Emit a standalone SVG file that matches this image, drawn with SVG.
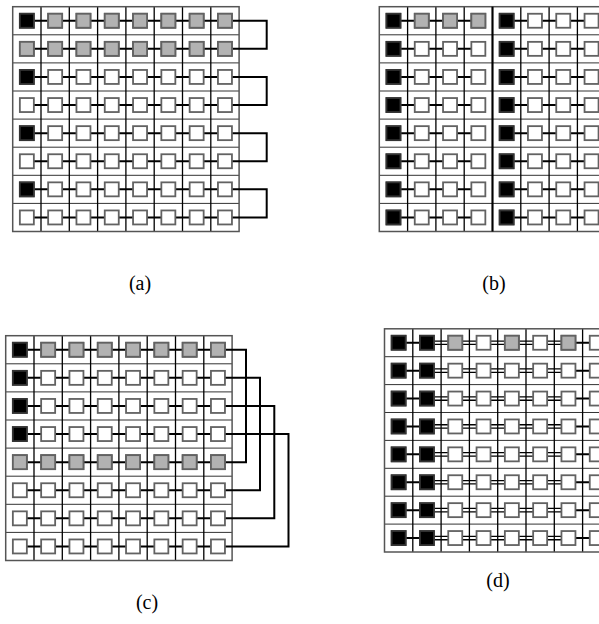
<svg xmlns="http://www.w3.org/2000/svg" xmlns:xlink="http://www.w3.org/1999/xlink" width="599" height="624" viewBox="0 0 599 624">
<style>
.h{stroke:#333;stroke-width:1;fill:none}
.v{stroke:#000;stroke-width:1.3;fill:none}
.o{stroke:#555;stroke-width:1.5;fill:none}
.c{stroke:#000;stroke-width:2;fill:none}
.c2{stroke:#000;stroke-width:1.3;fill:none}
.w,.g,.k{stroke:#626262;stroke-width:1.8}
.w{fill:#fff}
.g{fill:#b2b2b2}
.k{fill:#000;stroke:#333}
.lbl{font-family:"Liberation Serif","Times New Roman",serif;font-size:20px;fill:#000;text-anchor:middle}
</style>
<defs>
<g id="grid">
<path class="h" d="M0,28.1H226.4M0,56.2H226.4M0,84.3H226.4M0,112.4H226.4M0,140.5H226.4M0,168.6H226.4M0,196.7H226.4"/>
<path class="v" d="M28.3,0V224.8M56.6,0V224.8M84.9,0V224.8M113.2,0V224.8M141.5,0V224.8M169.8,0V224.8M198.1,0V224.8"/>
<rect class="o" x="0" y="0" width="226.4" height="224.8"/>
</g>
<g id="gridD">
<path class="h" d="M0,27.9H226.4M0,55.8H226.4M0,83.7H226.4M0,111.6H226.4M0,139.5H226.4M0,167.4H226.4M0,195.3H226.4"/>
<path class="v" d="M28.3,0V223.2M56.6,0V223.2M84.9,0V223.2M113.2,0V223.2M141.5,0V223.2M169.8,0V223.2M198.1,0V223.2"/>
<rect class="o" x="0" y="0" width="226.4" height="223.2"/>
</g>
<g id="sq8">
<rect class="w" x="7.15" y="-7" width="14" height="14"/>
<rect class="w" x="35.45" y="-7" width="14" height="14"/>
<rect class="w" x="63.75" y="-7" width="14" height="14"/>
<rect class="w" x="92.05" y="-7" width="14" height="14"/>
<rect class="w" x="120.35" y="-7" width="14" height="14"/>
<rect class="w" x="148.65" y="-7" width="14" height="14"/>
<rect class="w" x="176.95" y="-7" width="14" height="14"/>
<rect class="w" x="205.25" y="-7" width="14" height="14"/>
</g>
<g id="rowA"><path class="c" d="M14.15,0H212.25"/><use xlink:href="#sq8" href="#sq8"/></g>
<g id="rowB"><path class="c" d="M14.15,0H99.05M127.35,0H212.25"/><use xlink:href="#sq8" href="#sq8"/></g>
<g id="rowD"><path class="c" d="M14.15,0H42.45M183.95,0H212.25"/><path class="c2" d="M42.45,-1.7H183.95M42.45,1.7H183.95"/><use xlink:href="#sq8" href="#sq8"/></g>
</defs>

<g id="panel-a" transform="translate(12.7,6.7)">
<use href="#grid" xlink:href="#grid"/>
<g id="connectors-a"><path class="c" d="M219.25,14.05H254V42.15H219.25M219.25,70.25H254V98.35H219.25M219.25,126.45H254V154.55H219.25M219.25,182.65H254V210.75H219.25"/></g>
<g id="rows-a">
<use href="#rowA" xlink:href="#rowA" y="14.05"/>
<use href="#rowA" xlink:href="#rowA" y="42.15"/>
<use href="#rowA" xlink:href="#rowA" y="70.25"/>
<use href="#rowA" xlink:href="#rowA" y="98.35"/>
<use href="#rowA" xlink:href="#rowA" y="126.45"/>
<use href="#rowA" xlink:href="#rowA" y="154.55"/>
<use href="#rowA" xlink:href="#rowA" y="182.65"/>
<use href="#rowA" xlink:href="#rowA" y="210.75"/>
</g>
<g id="marks-a">
<rect class="k" x="7.15" y="7.05" width="14" height="14"/>
<rect class="g" x="35.45" y="7.05" width="14" height="14"/>
<rect class="g" x="63.75" y="7.05" width="14" height="14"/>
<rect class="g" x="92.05" y="7.05" width="14" height="14"/>
<rect class="g" x="120.35" y="7.05" width="14" height="14"/>
<rect class="g" x="148.65" y="7.05" width="14" height="14"/>
<rect class="g" x="176.95" y="7.05" width="14" height="14"/>
<rect class="g" x="205.25" y="7.05" width="14" height="14"/>
<rect class="g" x="7.15" y="35.15" width="14" height="14"/>
<rect class="g" x="35.45" y="35.15" width="14" height="14"/>
<rect class="g" x="63.75" y="35.15" width="14" height="14"/>
<rect class="g" x="92.05" y="35.15" width="14" height="14"/>
<rect class="g" x="120.35" y="35.15" width="14" height="14"/>
<rect class="g" x="148.65" y="35.15" width="14" height="14"/>
<rect class="g" x="176.95" y="35.15" width="14" height="14"/>
<rect class="g" x="205.25" y="35.15" width="14" height="14"/>
<rect class="k" x="7.15" y="63.25" width="14" height="14"/>
<rect class="k" x="7.15" y="119.45" width="14" height="14"/>
<rect class="k" x="7.15" y="175.65" width="14" height="14"/>
</g>
</g>

<g id="panel-b" transform="translate(379.3,6.7)">
<use href="#grid" xlink:href="#grid"/>
<path d="M113.2,0V224.8" stroke="#000" stroke-width="2" fill="none"/>
<g id="rows-b">
<use href="#rowB" xlink:href="#rowB" y="14.05"/>
<use href="#rowB" xlink:href="#rowB" y="42.15"/>
<use href="#rowB" xlink:href="#rowB" y="70.25"/>
<use href="#rowB" xlink:href="#rowB" y="98.35"/>
<use href="#rowB" xlink:href="#rowB" y="126.45"/>
<use href="#rowB" xlink:href="#rowB" y="154.55"/>
<use href="#rowB" xlink:href="#rowB" y="182.65"/>
<use href="#rowB" xlink:href="#rowB" y="210.75"/>
</g>
<g id="marks-b">
<rect class="g" x="35.45" y="7.05" width="14" height="14"/>
<rect class="g" x="63.75" y="7.05" width="14" height="14"/>
<rect class="g" x="92.05" y="7.05" width="14" height="14"/>
<rect class="k" x="7.15" y="7.05" width="14" height="14"/>
<rect class="k" x="7.15" y="35.15" width="14" height="14"/>
<rect class="k" x="7.15" y="63.25" width="14" height="14"/>
<rect class="k" x="7.15" y="91.35" width="14" height="14"/>
<rect class="k" x="7.15" y="119.45" width="14" height="14"/>
<rect class="k" x="7.15" y="147.55" width="14" height="14"/>
<rect class="k" x="7.15" y="175.65" width="14" height="14"/>
<rect class="k" x="7.15" y="203.75" width="14" height="14"/>
<rect class="k" x="120.35" y="7.05" width="14" height="14"/>
<rect class="k" x="120.35" y="35.15" width="14" height="14"/>
<rect class="k" x="120.35" y="63.25" width="14" height="14"/>
<rect class="k" x="120.35" y="91.35" width="14" height="14"/>
<rect class="k" x="120.35" y="119.45" width="14" height="14"/>
<rect class="k" x="120.35" y="147.55" width="14" height="14"/>
<rect class="k" x="120.35" y="175.65" width="14" height="14"/>
<rect class="k" x="120.35" y="203.75" width="14" height="14"/>
</g>
</g>

<g id="panel-c" transform="translate(5.7,335.7)">
<use href="#grid" xlink:href="#grid"/>
<g id="connectors-c"><path class="c" d="M219.25,14.05H240.3V126.45H219.25M219.25,42.15H254.3V154.55H219.25M219.25,70.25H268.6V182.65H219.25M219.25,98.35H282.8V210.75H219.25"/></g>
<g id="rows-c">
<use href="#rowA" xlink:href="#rowA" y="14.05"/>
<use href="#rowA" xlink:href="#rowA" y="42.15"/>
<use href="#rowA" xlink:href="#rowA" y="70.25"/>
<use href="#rowA" xlink:href="#rowA" y="98.35"/>
<use href="#rowA" xlink:href="#rowA" y="126.45"/>
<use href="#rowA" xlink:href="#rowA" y="154.55"/>
<use href="#rowA" xlink:href="#rowA" y="182.65"/>
<use href="#rowA" xlink:href="#rowA" y="210.75"/>
</g>
<g id="marks-c">
<rect class="k" x="7.15" y="7.05" width="14" height="14"/>
<rect class="g" x="35.45" y="7.05" width="14" height="14"/>
<rect class="g" x="63.75" y="7.05" width="14" height="14"/>
<rect class="g" x="92.05" y="7.05" width="14" height="14"/>
<rect class="g" x="120.35" y="7.05" width="14" height="14"/>
<rect class="g" x="148.65" y="7.05" width="14" height="14"/>
<rect class="g" x="176.95" y="7.05" width="14" height="14"/>
<rect class="g" x="205.25" y="7.05" width="14" height="14"/>
<rect class="k" x="7.15" y="35.15" width="14" height="14"/>
<rect class="k" x="7.15" y="63.25" width="14" height="14"/>
<rect class="k" x="7.15" y="91.35" width="14" height="14"/>
<rect class="g" x="7.15" y="119.45" width="14" height="14"/>
<rect class="g" x="35.45" y="119.45" width="14" height="14"/>
<rect class="g" x="63.75" y="119.45" width="14" height="14"/>
<rect class="g" x="92.05" y="119.45" width="14" height="14"/>
<rect class="g" x="120.35" y="119.45" width="14" height="14"/>
<rect class="g" x="148.65" y="119.45" width="14" height="14"/>
<rect class="g" x="176.95" y="119.45" width="14" height="14"/>
<rect class="g" x="205.25" y="119.45" width="14" height="14"/>
</g>
</g>

<g id="panel-d" transform="translate(384.5,328.8)">
<use href="#gridD" xlink:href="#gridD"/>
<g id="rows-d">
<use href="#rowD" xlink:href="#rowD" y="13.95"/>
<use href="#rowD" xlink:href="#rowD" y="41.85"/>
<use href="#rowD" xlink:href="#rowD" y="69.75"/>
<use href="#rowD" xlink:href="#rowD" y="97.65"/>
<use href="#rowD" xlink:href="#rowD" y="125.55"/>
<use href="#rowD" xlink:href="#rowD" y="153.45"/>
<use href="#rowD" xlink:href="#rowD" y="181.35"/>
<use href="#rowD" xlink:href="#rowD" y="209.25"/>
</g>
<g id="marks-d">
<rect class="g" x="63.75" y="6.95" width="14" height="14"/>
<rect class="g" x="120.35" y="6.95" width="14" height="14"/>
<rect class="g" x="176.95" y="6.95" width="14" height="14"/>
<rect class="k" x="7.15" y="6.95" width="14" height="14"/><rect class="k" x="35.45" y="6.95" width="14" height="14"/>
<rect class="k" x="7.15" y="34.85" width="14" height="14"/><rect class="k" x="35.45" y="34.85" width="14" height="14"/>
<rect class="k" x="7.15" y="62.75" width="14" height="14"/><rect class="k" x="35.45" y="62.75" width="14" height="14"/>
<rect class="k" x="7.15" y="90.65" width="14" height="14"/><rect class="k" x="35.45" y="90.65" width="14" height="14"/>
<rect class="k" x="7.15" y="118.55" width="14" height="14"/><rect class="k" x="35.45" y="118.55" width="14" height="14"/>
<rect class="k" x="7.15" y="146.45" width="14" height="14"/><rect class="k" x="35.45" y="146.45" width="14" height="14"/>
<rect class="k" x="7.15" y="174.35" width="14" height="14"/><rect class="k" x="35.45" y="174.35" width="14" height="14"/>
<rect class="k" x="7.15" y="202.25" width="14" height="14"/><rect class="k" x="35.45" y="202.25" width="14" height="14"/>
</g>
</g>

<g id="labels">
<text class="lbl" x="140" y="290">(a)</text>
<text class="lbl" x="494" y="290">(b)</text>
<text class="lbl" x="147" y="609">(c)</text>
<text class="lbl" x="498" y="587">(d)</text>
</g>
</svg>
